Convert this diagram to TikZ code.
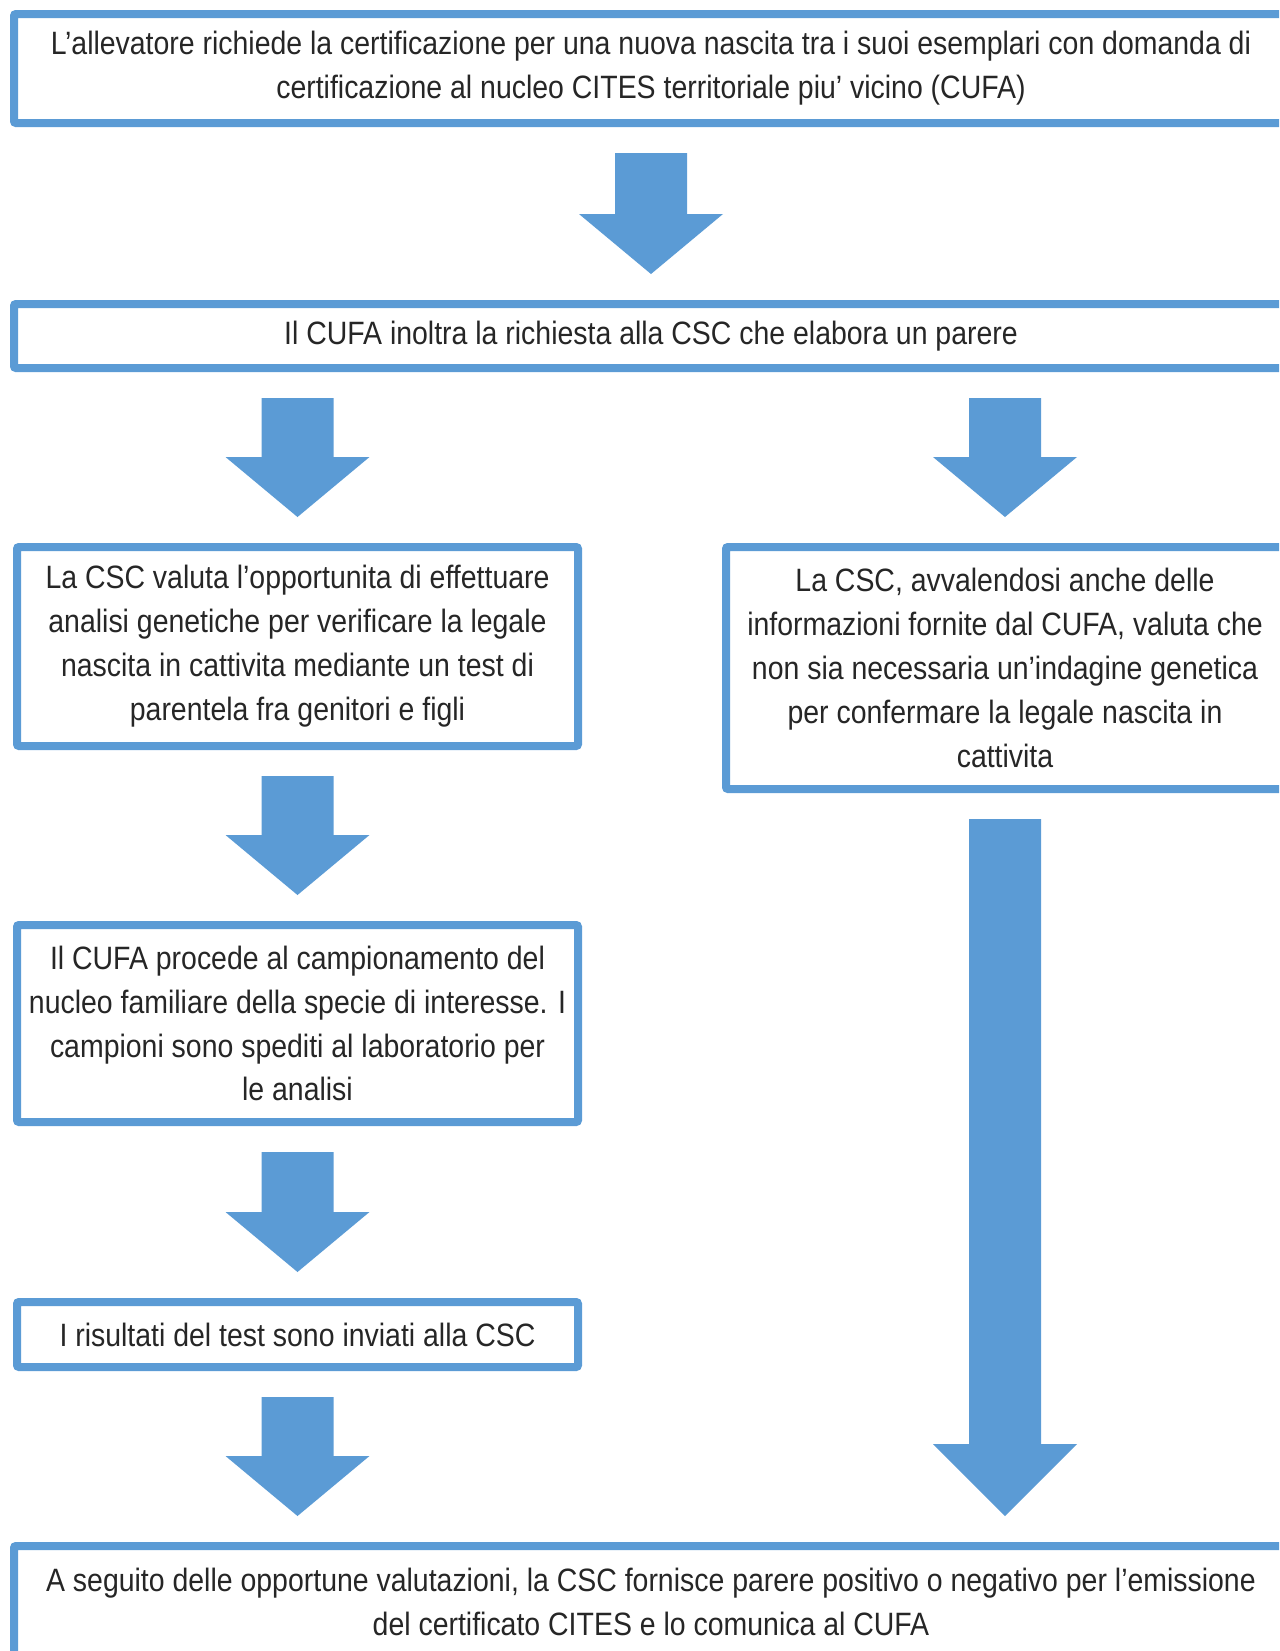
\documentclass[tikz,border=0pt]{standalone}
\usepackage{fontspec}
\setmainfont{Liberation Sans}[FakeStretch=0.88]
\usetikzlibrary{calc}
\definecolor{boxblue}{HTML}{5B9BD5}
\newdimen\px \px=0.02cm
\tikzset{
  stepbox/.style={draw=boxblue, line width=8\px, rounded corners=2\px, fill=white,
    inner sep=0pt, align=center, text=black!85, font=\fontsize{18.4}{25}\selectfont},
  bigarrow/.style={fill=boxblue},
}
% block arrow: [head length] {start} {end}
\newcommand{\blockarrow}[3][60]{%
  \fill[bigarrow] ($(#2)+(-36,26)$) -- ($(#2)+(36,26)$) -- ($(#3)+(36,-26-#1)$)
    -- ($(#3)+(72,-26-#1)$) -- ($(#3)+(0,-26)$) -- ($(#3)+(-72,-26-#1)$)
    -- ($(#3)+(-36,-26-#1)$) -- cycle;}

\begin{document}
\begin{tikzpicture}[x=0.02cm, y=-0.02cm]
\clip (0,0) rectangle (1279,1651);
\node[stepbox, minimum width=1274\px, minimum height=109\px] (req) at (651,68.5)
  {L’allevatore richiede la certificazione per una nuova nascita tra i suoi esemplari con domanda di\\
   certificazione al nucleo CITES territoriale piu’ vicino (CUFA)};
\node[stepbox, minimum width=1274\px, minimum height=64\px] (fwd) at (651,336)
  {Il CUFA inoltra la richiesta alla CSC che elabora un parere};
\node[stepbox, minimum width=561\px, minimum height=199\px] (genetic) at (297.5,646.5)
  {La CSC valuta l’opportunita di effettuare\\ analisi genetiche per verificare la legale\\
   nascita in cattivita mediante un test di\\ parentela fra genitori e figli};
\node[stepbox, minimum width=558\px, minimum height=242\px] (nogenetic) at (1005,668)
  {La CSC, avvalendosi anche delle\\ informazioni fornite dal CUFA, valuta che\\
   non sia necessaria un’indagine genetica\\ per confermare la legale nascita in\\ cattivita};
\node[stepbox, minimum width=561\px, minimum height=197\px] (sampling) at (297.5,1023.5)
  {Il CUFA procede al campionamento del\\ nucleo familiare della specie di interesse. I\\
   campioni sono spediti al laboratorio per\\ le analisi};
\node[stepbox, minimum width=561\px, minimum height=65\px] (results) at (297.5,1334.5)
  {I risultati del test sono inviati alla CSC};
\node[stepbox, minimum width=1274\px, minimum height=112\px] (opinion) at (651,1602)
  {A seguito delle opportune valutazioni, la CSC fornisce parere positivo o negativo per l’emissione\\
   del certificato CITES e lo comunica al CUFA};
% arrows
\blockarrow{fwd.north |- req.south}{fwd.north}
\blockarrow{genetic.north |- fwd.south}{genetic.north}
\blockarrow{nogenetic.north |- fwd.south}{nogenetic.north}
\blockarrow{genetic.south}{sampling.north}
\blockarrow{sampling.south}{results.north}
\blockarrow{results.south}{results.south |- opinion.north}
\blockarrow[72]{nogenetic.south}{nogenetic.south |- opinion.north}
\end{tikzpicture}
\end{document}
